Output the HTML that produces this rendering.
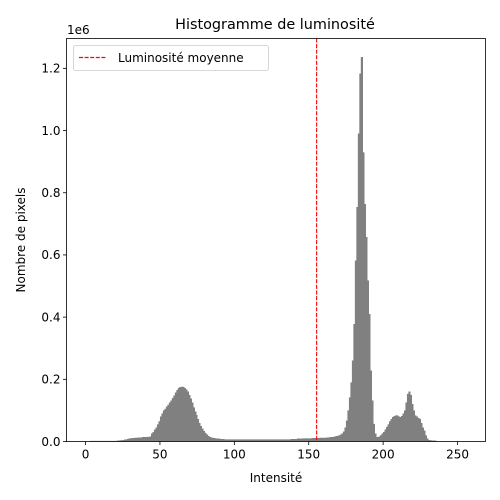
<!DOCTYPE html>
<html><head><meta charset="utf-8"><style>
body{margin:0;background:#fff;}
svg{display:block;font-family:"DejaVu Sans","Liberation Sans",sans-serif;}
</style></head><body>
<svg id="chart" width="500" height="500" viewBox="0 0 500 500">
<rect x="0" y="0" width="500" height="500" fill="#fff"/>
<path id="area" fill="#808080" stroke="none"/>
<g id="bars" shape-rendering="crispEdges"></g>
<g id="xaxis"></g>
<g id="yaxis"></g>
<line id="meanline" stroke="#ff0000" stroke-width="1.1" stroke-dasharray="4,1.6"/>
<rect x="66.5" y="38.5" width="419" height="403" fill="none" stroke="#000" stroke-width="0.8"/>
<text x="275" y="29" font-size="14.4" text-anchor="middle">Histogramme de luminosité</text>
<text x="276" y="482" font-size="12" text-anchor="middle">Intensité</text>
<text x="25" y="240" font-size="12" text-anchor="middle" transform="rotate(-90 25 240)">Nombre de pixels</text>
<text x="67" y="34" font-size="12">1e6</text>
<g>
<rect x="73.5" y="45.5" width="195" height="25" rx="2" fill="#fff" fill-opacity="0.8" stroke="#ccc" stroke-width="0.8"/>
<line x1="79" y1="57.5" x2="107" y2="57.5" stroke="#ff0000" stroke-width="1.2" stroke-dasharray="4,1.6"/>
<text x="118" y="62" font-size="12">Luminosité moyenne</text>
</g>
</svg>
<script>
const counts = [0,0,0,2,2,2,2,2,2,2,2,2,2,2,2,2,2,2,2,2,2,
3,3,4,4,5,6,7,8,
10,10,11,11,12,12,13,13,13,14,14,14,15,15,16,
25,30,38,45,55,65,80,90,100,105,112,118,125,132,140,148,157,165,172,175,176,176,172,167,160,150,138,125,110,97,85,72,60,50,42,34,28,22,18,15,13,12,11,10,9,9,
8,8,8,7,7,7,7,7,7,7,7,7,7,7,7,7,7,7,7,7,7,7,7,7,7,7,7,7,7,7,7,7,7,7,7,7,7,7,7,7,7,7,7,7,7,7,7,7,8,8,
8,8,9,9,9,9,10,10,10,10,10,10,11,11,11,11,11,12,12,12,12,12,
13,13,14,14,15,16,17,
18,20,22,26,
32,45,67,100,142,190,260,378,582,754,990,1183,1236,930,764,657,518,410,228,132,57,25,14,14,16,20,25,30,38,46,55,65,72,78,82,84,84,80,78,82,90,100,125,153,160,150,121,100,84,80,76,73,60,45,35,20,9,
5,4,4,3,3,2,
0,0,0,0,0,0,0,0,0,0,0,0,0,0,0,0,0,0,0];
const meanValue = [155.3];
const xTicks = [0,50,100,150,200,250];
const yTicks = [0,0.2,0.4,0.6,0.8,1.0,1.2];
const yTickLabels = ["0.0","0.2","0.4","0.6","0.8","1.0","1.2"];

const NS="http://www.w3.org/2000/svg";
const L=66.5,R=485.5,T=38.5,B=441.5;
const xmin=-12.8,xmax=268.8,ymin=0,ymax=1.296;
const xs=v=>L+(v-xmin)/(xmax-xmin)*(R-L);
const ys=v=>B-(v-ymin)/(ymax-ymin)*(B-T);
function mk(t,a,p){const e=document.createElementNS(NS,t);for(const k in a)e.setAttribute(k,a[k]);p.appendChild(e);return e;}
const bars=document.getElementById('bars');
let d='M'+xs(0)+','+B;
counts.forEach((c,i)=>{
  const y=ys(c/1000);
  d+=' L'+xs(i)+','+y+' L'+xs(i+1)+','+y;
  if(c<=0)return;
  const r=mk('rect',{x:xs(i),y:y,width:xs(i+1)-xs(i)+0.6,height:B-y,fill:'#808080'},bars);
  
  
});
d+=' L'+xs(counts.length)+','+B+' Z';
document.getElementById('area').setAttribute('d',d);
const xa=document.getElementById('xaxis');
xTicks.forEach(t=>{
  const x=xs(t);
  mk('line',{x1:x,y1:B,x2:x,y2:B+3.5,stroke:'#000','stroke-width':0.8},xa);
  const tx=mk('text',{x:x,y:B+17,'font-size':12,'text-anchor':'middle'},xa);
  tx.textContent=t;
  
  
});
const ya=document.getElementById('yaxis');
yTicks.forEach((t,i)=>{
  const y=ys(t);
  mk('line',{x1:L-3.5,y1:y,x2:L,y2:y,stroke:'#000','stroke-width':0.8},ya);
  const tx=mk('text',{x:L-6,y:y+4.3,'font-size':12,'text-anchor':'end'},ya);
  tx.textContent=yTickLabels[i];
  
  
});
const ml=document.getElementById('meanline');
ml.setAttribute('x1',xs(meanValue[0]));ml.setAttribute('x2',xs(meanValue[0]));
ml.setAttribute('y1',T);ml.setAttribute('y2',B);
</script>
</body></html>
